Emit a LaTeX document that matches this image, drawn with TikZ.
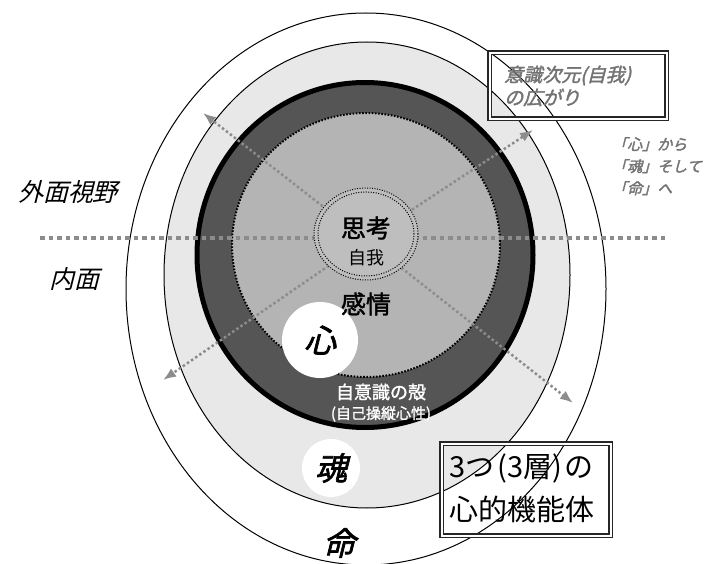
\documentclass[tikz,border=0pt]{standalone}
\usepackage{fontspec}
\newfontfamily\jp{Noto Sans CJK JP}
\newfontfamily\jpb[FakeBold=1.5]{Noto Sans CJK JP}
\newfontfamily\jpi[FakeSlant=0.25]{Noto Sans CJK JP}
\newfontfamily\jpbi[FakeSlant=0.25,FakeBold=2]{Noto Sans CJK JP}
\usetikzlibrary{arrows.meta}
\definecolor{lgray}{HTML}{E8E8E8}
\definecolor{dgray}{HTML}{555555}
\definecolor{mgray}{HTML}{B4B4B4}
\definecolor{cgray}{HTML}{BEBEBE}
\definecolor{lineg}{HTML}{8C8C8C}
\definecolor{txtg}{HTML}{737373}
\begin{document}
\begin{tikzpicture}[x=1pt,y=-1pt,
  hdots/.style={lineg, line width=4.5pt, dash pattern=on 4.5pt off 4pt},
  ddots/.style={lineg, line width=2.5pt, dash pattern=on 2.5pt off 2.5pt, -{Latex[length=13pt,width=10pt]}},
  ring/.style={draw=black, line width=1pt},
  whitedisc/.style={circle, fill=white, inner sep=0pt},
  dblbox/.style={draw=black!85, double=white, double distance=2pt, line width=1.1pt, inner sep=0pt, anchor=north west},
  lbl/.style={inner sep=0pt}
]
\useasboundingbox (0,0) rectangle (710,564);
\fill[white] (0,0) rectangle (710,564);

% layers
\draw[ring, fill=white] (366,289) ellipse [x radius=240pt, y radius=276pt];
\draw[ring, fill=lgray] (367,275) ellipse [x radius=203pt, y radius=233pt];
\draw[draw=black, line width=5pt, fill=dgray] (365,255) ellipse [x radius=168pt, y radius=172.5pt];
\fill[mgray] (366,245) ellipse [x radius=134pt, y radius=132pt];
\draw[black, line width=2pt, dash pattern=on 1.6pt off 1.6pt] (366,245) ellipse [x radius=134pt, y radius=132pt];

% white discs
\node[whitedisc, minimum size=76pt, font={\jpbi\fontsize{32}{32}\selectfont}] (kokoro) at (320,340) {心};
\node[whitedisc, minimum size=58pt, font={\jpbi\fontsize{32}{32}\selectfont}] (tama) at (331,468) {魂};

% lines
\coordinate (c) at (366,240);
\coordinate (hl) at (40,238);
\coordinate (hr) at (665,238);
\coordinate (ul) at (203,113);
\coordinate (ur) at (533,130);
\coordinate (ll) at (163,380);
\coordinate (lr) at (573,403);
\draw[hdots] (hl) -- (hr);
\draw[ddots] (c) -- (ul);
\draw[ddots] (c) -- (ur);
\draw[ddots] (c) -- (ll);
\draw[ddots] (c) -- (lr);

% small self circle
\fill[cgray] (366,234) ellipse [x radius=52pt, y radius=46pt];
\draw[black, line width=1pt, dash pattern=on 1pt off 1.5pt] (366,234) ellipse [x radius=52pt, y radius=46pt];
\draw[black, line width=1pt, dash pattern=on 1pt off 1.5pt] (366,234) ellipse [x radius=48pt, y radius=42pt];

% texts inside
\node[lbl, font={\jpb\fontsize{25}{25}\selectfont}] (shiko) at (366,228) {思考};
\node[lbl, font={\jp\fontsize{18}{18}\selectfont}] (jiga) at (366,258) {自我};
\node[lbl, font={\jpb\fontsize{25}{25}\selectfont}] (kanjo) at (366,304) {感情};
\node[lbl, white, font={\jpb\fontsize{18}{18}\selectfont}] (kara) at (381,392) {自意識の殻};
\node[lbl, white, font={\jpb\fontsize{15}{15}\selectfont}] (kara2) at (381,414) {(自己操縦心性)};
\node[lbl, font={\jpbi\fontsize{32}{32}\selectfont}] (inochi) at (339,543) {命};

% left labels
\node[lbl, font={\jpi\fontsize{25}{25}\selectfont}] (gaimen) at (68,192) {外面視野};
\node[lbl, font={\jpi\fontsize{25}{25}\selectfont}] (naimen) at (74,279) {内面};

% boxes
\node[dblbox, minimum width=177pt, minimum height=66pt] (ishiki) at (489,52) {};
\node[lbl, anchor=west, txtg, align=left, font={\jpbi\fontsize{19}{23}\selectfont}] (ishikit) at (504,86)
  {意識次元(自我)\\の広がり};
\node[dblbox, minimum width=169pt, minimum height=92pt] (kino) at (441,443) {};
\node[lbl, anchor=west, align=left, font={\jp\fontsize{29}{43}\selectfont}] (kinot) at (449,488)
  {3つ\kern3pt(3層)\kern3pt の\\心的機能体};

% right gray text
\node[lbl, anchor=north west, txtg, align=left, font={\jpbi\fontsize{15}{22}\selectfont}] (flow) at (612,137)
  {「心」から\\「魂」そして\\「命」へ};
\end{tikzpicture}
\end{document}
